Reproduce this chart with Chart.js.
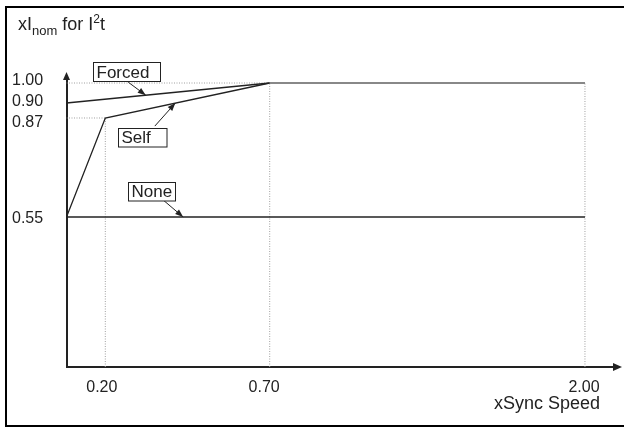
<!DOCTYPE html>
<html>
<head>
<meta charset="utf-8">
<script src="https://cdn.jsdelivr.net/npm/chart.js@4.4.1/dist/chart.umd.min.js"></script>
<style>
  html, body { margin: 0; padding: 0; background: #fff; }
  #wrap { width: 624px; height: 428px; }
</style>
</head>
<body>
<div id="wrap"><canvas id="chart"></canvas></div>
<script>
// values (x = sync speed, y = xInom for I2t)
const xTicks = [0.20, 0.70, 2.00];
const yTicks = [0.55, 0.87, 0.90, 1.00];

const forcedX = [0, 0.70, 2.00];
const forcedY = [0.90, 1.00, 1.00];
const selfX = [0, 0.20, 0.70, 2.00];
const selfY = [0.55, 0.87, 1.00, 1.00];
const noneX = [0, 2.00];
const noneY = [0.55, 0.55];

const pts = (xs, ys) => xs.map((x, i) => ({ x: x, y: ys[i] }));

// dotted helper lines down/left from the knees of the Self curve
const guides = [];
selfX.forEach((x, i) => {
  if (i === 0) return;
  guides.push([{ x: x, y: 0 }, { x: x, y: selfY[i] }]);
  if (i < selfX.length - 1) guides.push([{ x: 0, y: selfY[i] }, { x: x, y: selfY[i] }]);
});

// the original drawing is not to scale, so both axes are piecewise linear
class SchematicScale extends Chart.LinearScale {
  static id = 'schematic';
  static defaults = {};

  toDecimal(v) {
    const s = this.options.stops;
    if (v <= s[0][0]) return s[0][1];
    for (let i = 1; i < s.length; i++) {
      if (v <= s[i][0]) {
        const a = s[i - 1], b = s[i];
        return a[1] + (v - a[0]) / (b[0] - a[0]) * (b[1] - a[1]);
      }
    }
    return s[s.length - 1][1];
  }

  fromDecimal(d) {
    const s = this.options.stops;
    for (let i = 1; i < s.length; i++) {
      if (d <= s[i][1]) {
        const a = s[i - 1], b = s[i];
        return a[0] + (d - a[1]) / (b[1] - a[1]) * (b[0] - a[0]);
      }
    }
    return s[s.length - 1][0];
  }

  getPixelForValue(value) {
    if (value === null || value === undefined || isNaN(value)) return NaN;
    return this.getPixelForDecimal(this.toDecimal(value));
  }

  getValueForPixel(pixel) {
    return this.fromDecimal(this.getDecimalForPixel(pixel));
  }

  // the labels in the original sit a few px off their ticks so they don't crowd
  _computeLabelItems(chartArea) {
    const items = super._computeLabelItems(chartArea);
    const nudge = this.options.labelNudge || [];
    const k = this.isHorizontal() ? 0 : 1;
    items.forEach((it, i) => { it.options.translation[k] += nudge[i] || 0; });
    return items;
  }
}
Chart.register(SchematicScale);

const ink = '#222';
const font = 'Liberation Sans, Arial, Helvetica, sans-serif';

// flat part at 1.00 is drawn lighter in the original
const flatGray = { borderColor: c => c.p0.parsed.x >= 0.7 ? '#808080' : ink };

const callouts = [
  { text: 'Forced', ds: 0, seg: 0, t: 0.39, box: [-52.5, -33.5, 67, 19], tail: [-17.5, -13] },
  { text: 'Self', ds: 1, seg: 1, t: 0.426, box: [-57.5, 25, 48.5, 18.5], tail: [-20.5, 23] },
  { text: 'None', ds: 2, seg: 0, t: 0.225, box: [-55, -35.5, 47, 18.5], tail: [-20, -17] }
];

function arrowHead(ctx, x0, y0, x1, y1, len, half) {
  const a = Math.atan2(y1 - y0, x1 - x0);
  ctx.beginPath();
  ctx.moveTo(x1, y1);
  ctx.lineTo(x1 - len * Math.cos(a) + half * Math.sin(a), y1 - len * Math.sin(a) - half * Math.cos(a));
  ctx.lineTo(x1 - len * Math.cos(a) - half * Math.sin(a), y1 - len * Math.sin(a) + half * Math.cos(a));
  ctx.closePath();
  ctx.fill();
}

const decorations = {
  id: 'decorations',
  beforeDraw(chart) {
    const ctx = chart.ctx;
    ctx.save();
    ctx.fillStyle = '#fff';
    ctx.fillRect(0, 0, chart.width, chart.height);
    ctx.strokeStyle = '#000';
    ctx.lineWidth = 2;
    ctx.strokeRect(6, 7, 640, 419);
    ctx.restore();
  },
  afterDraw(chart) {
    const ctx = chart.ctx;
    const area = chart.chartArea;
    ctx.save();
    ctx.fillStyle = ink;
    ctx.strokeStyle = ink;

    // axis arrows
    arrowHead(ctx, area.right - 10, area.bottom, area.right + 9, area.bottom, 9, 4);
    arrowHead(ctx, area.left, area.top + 10, area.left, area.top - 7, 8, 3.5);

    // y title: xInom for I2t
    ctx.textBaseline = 'alphabetic';
    ctx.textAlign = 'left';
    let x = 18;
    const parts = [['xI', 18, 0], ['nom', 13, 5], [' for I', 18, 0], ['2', 12, -7], ['t', 18, 0]];
    parts.forEach(p => {
      ctx.font = p[1] + 'px ' + font;
      ctx.fillText(p[0], x, 30 + p[2]);
      x += ctx.measureText(p[0]).width;
    });

    // x title
    ctx.font = '18px ' + font;
    ctx.textAlign = 'right';
    ctx.fillText('xSync Speed', 600, 409);

    // labelled callouts
    ctx.font = '17px ' + font;
    ctx.textAlign = 'left';
    ctx.textBaseline = 'middle';
    ctx.lineWidth = 1;
    callouts.forEach(c => {
      const els = chart.getDatasetMeta(c.ds).data;
      const p0 = els[c.seg], p1 = els[c.seg + 1];
      const tx = p0.x + (p1.x - p0.x) * c.t;
      const ty = p0.y + (p1.y - p0.y) * c.t;
      const sx = tx + c.tail[0], sy = ty + c.tail[1];
      ctx.beginPath();
      ctx.moveTo(sx, sy);
      ctx.lineTo(tx, ty);
      ctx.stroke();
      arrowHead(ctx, sx, sy, tx, ty, 8, 3);
      const bx = Math.round(tx + c.box[0]) + 0.5, by = Math.round(ty + c.box[1]) + 0.5;
      ctx.fillStyle = '#fff';
      ctx.fillRect(bx, by, c.box[2], c.box[3]);
      ctx.strokeRect(bx, by, c.box[2], c.box[3]);
      ctx.fillStyle = ink;
      ctx.fillText(c.text, bx + 3, by + c.box[3] / 2 + 1);
    });
    ctx.restore();
  }
};

const lineStyle = { borderColor: ink, borderWidth: 1.3, pointRadius: 0, tension: 0, fill: false };

new Chart(document.getElementById('chart'), {
  type: 'line',
  data: {
    datasets: [
      { label: 'Forced', data: pts(forcedX, forcedY), ...lineStyle, segment: flatGray },
      { label: 'Self', data: pts(selfX, selfY), ...lineStyle, segment: flatGray },
      { label: 'None', data: pts(noneX, noneY), ...lineStyle },
      ...guides.map(g => ({
        data: g, borderColor: '#a0a0a0', borderWidth: 1, borderDash: [1, 1.5], pointRadius: 0
      }))
    ]
  },
  options: {
    responsive: true,
    maintainAspectRatio: false,
    animation: false,
    events: [],
    layout: { padding: { top: 79, left: 12, right: 11, bottom: 0 } },
    plugins: { legend: { display: false }, tooltip: { enabled: false } },
    scales: {
      x: {
        type: 'schematic',
        min: 0,
        max: 2.1,
        stops: [[0, 0], [0.2, 0.071], [0.7, 0.3718], [2.0, 0.9487], [2.1, 1]],
        labelNudge: [-3.5, -5.5, -1],
        grid: { display: false },
        border: { display: true, color: ink, width: 2 },
        afterBuildTicks: s => { s.ticks = xTicks.map(v => ({ value: v })); },
        afterFit: s => { s.height = 61; },
        ticks: {
          autoSkip: false,
          maxRotation: 0,
          padding: 3,
          color: ink,
          font: { family: font, size: 16 },
          callback: v => v.toFixed(2)
        }
      },
      y: {
        type: 'schematic',
        min: 0,
        max: 1.02,
        stops: [[0, 0], [0.55, 0.5208], [0.87, 0.8646], [0.90, 0.9167], [1.0, 0.9861], [1.02, 1]],
        labelNudge: [1.5, 4.5, -1, -2],
        grid: { display: false },
        border: { display: true, color: ink, width: 2 },
        afterBuildTicks: s => { s.ticks = yTicks.map(v => ({ value: v })); },
        afterFit: s => { s.width = 54.5; },
        ticks: {
          autoSkip: false,
          crossAlign: 'far',
          color: ink,
          font: { family: font, size: 16 },
          callback: v => v.toFixed(2)
        }
      }
    }
  },
  plugins: [decorations]
});
</script>
</body>
</html>
